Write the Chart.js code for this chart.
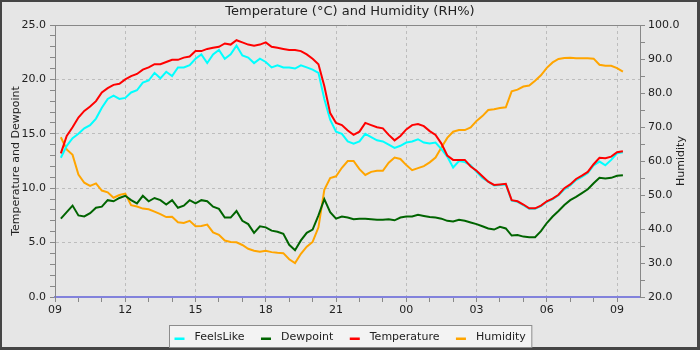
<!DOCTYPE html>
<html>
<head>
<meta charset="utf-8">
<script src="https://cdn.jsdelivr.net/npm/chart.js@4"></script>
<style>
  html, body { margin: 0; padding: 0; background: #e6e6e6; }
  canvas { display: block; }
</style>
</head>
<body>
<canvas id="chart" width="700" height="350"></canvas>
<script>
// 15 minute readings, first one at 09:15 (hours are counted from 09:00)
const firstSample = 0.25;
const sampleStep = 0.25;

const feelsLike = [
  12.8, 13.9, 14.6, 15.0, 15.5, 15.8, 16.4, 17.4, 18.2, 18.5,
  18.2, 18.3, 18.8, 19.0, 19.7, 19.9, 20.6, 20.1, 20.7, 20.3,
  21.1, 21.1, 21.3, 21.9, 22.3, 21.5, 22.3, 22.7, 21.9, 22.3,
  23.1, 22.2, 22.0, 21.5, 21.9, 21.6, 21.1, 21.3, 21.1, 21.1,
  21.0, 21.3, 21.1, 20.9, 20.6, 18.2, 16.3, 15.2, 15.0, 14.3,
  14.1, 14.3, 15.0, 14.7, 14.4, 14.3, 14.0, 13.7, 13.9, 14.2,
  14.3, 14.5, 14.2, 14.1, 14.2, 13.6, 12.9, 11.9, 12.5, 12.4,
  12.1, 11.5, 10.95, 10.6, 10.25, 10.3, 10.35, 8.85, 8.75, 8.45,
  8.1, 8.1, 8.35, 8.75, 9.0, 9.35, 9.9, 10.25, 10.75, 11.05,
  11.4, 12.1, 12.45, 12.1, 12.6, 13.2, 13.3
];

const dewpoint = [
  7.2, 7.8, 8.4, 7.5, 7.4, 7.7, 8.2, 8.3, 8.9, 8.8,
  9.1, 9.3, 8.9, 8.6, 9.3, 8.8, 9.1, 8.9, 8.5, 8.9,
  8.2, 8.4, 8.9, 8.6, 8.9, 8.8, 8.3, 8.1, 7.3, 7.3,
  7.9, 7.0, 6.7, 5.9, 6.5, 6.4, 6.1, 6.0, 5.8, 4.8,
  4.3, 5.2, 5.9, 6.2, 7.5, 9.0, 7.8, 7.2, 7.4, 7.3,
  7.15, 7.2, 7.2, 7.15, 7.1, 7.1, 7.15, 7.05, 7.3, 7.4,
  7.4, 7.55, 7.45, 7.35, 7.3, 7.2, 7.0, 6.95, 7.1, 7.0,
  6.85, 6.7, 6.5, 6.3, 6.2, 6.45, 6.3, 5.65, 5.7, 5.55,
  5.5, 5.5, 6.05, 6.8, 7.4, 7.9, 8.45, 8.9, 9.2, 9.55,
  9.9, 10.45, 10.95, 10.9, 10.95, 11.15, 11.2
];

const temperature = [
  13.2, 14.8, 15.6, 16.5, 17.1, 17.5, 18.0, 18.8, 19.2, 19.5,
  19.6, 20.0, 20.3, 20.5, 20.9, 21.1, 21.4, 21.4, 21.6, 21.8,
  21.8, 22.0, 22.1, 22.6, 22.6, 22.8, 22.9, 23.0, 23.3, 23.2,
  23.6, 23.4, 23.2, 23.1, 23.2, 23.4, 23.0, 22.9, 22.8, 22.7,
  22.7, 22.6, 22.3, 21.9, 21.4, 19.4, 16.9, 16.0, 15.8, 15.3,
  14.9, 15.2, 16.0, 15.8, 15.6, 15.5, 14.9, 14.4, 14.8, 15.4,
  15.8, 15.9, 15.7, 15.25, 14.9, 14.1, 13.0, 12.6, 12.6, 12.6,
  12.0, 11.6, 11.1, 10.6, 10.3, 10.35, 10.4, 8.9, 8.8, 8.5,
  8.15, 8.15, 8.4, 8.8, 9.05, 9.4, 10.0, 10.35, 10.85, 11.15,
  11.5, 12.2, 12.8, 12.75, 12.9, 13.3, 13.4
];

const humidity = [
  67.0, 63.4, 61.8, 56.0, 53.6, 52.7, 53.4, 51.3, 50.8, 49.2,
  50.0, 50.4, 47.0, 46.6, 46.0, 45.8, 45.1, 44.4, 43.5, 43.6,
  42.0, 41.8, 42.4, 40.8, 40.9, 41.3, 39.0, 38.3, 36.6, 36.2,
  36.1, 35.3, 34.2, 33.6, 33.3, 33.6, 33.2, 33.0, 32.9, 31.1,
  30.0, 32.7, 34.8, 36.2, 40.5, 51.5, 55.0, 55.5, 58.0, 60.0,
  60.0, 57.6, 55.9, 56.8, 57.1, 57.1, 59.5, 61.0, 60.6, 58.8,
  57.3, 57.9, 58.5, 59.6, 61.0, 64.0, 66.8, 68.6, 69.1, 69.1,
  69.9, 71.8, 73.2, 75.0, 75.2, 75.6, 75.8, 80.5, 81.0, 81.9,
  82.2, 83.6, 85.2, 87.4, 89.0, 90.0, 90.3, 90.4, 90.2, 90.2,
  90.2, 90.1, 88.3, 88.0, 88.0, 87.3, 86.3
];

const hourLabels = ["09", "12", "15", "18", "21", "00", "03", "06", "09"];

const series = [
  { label: "FeelsLike", values: feelsLike, color: "#00ffff", axis: "y", order: 2 },
  { label: "Dewpoint", values: dewpoint, color: "#006400", axis: "y", order: 3 },
  { label: "Temperature", values: temperature, color: "#ff0000", axis: "y", order: 1 },
  { label: "Humidity", values: humidity, color: "#ffa500", axis: "y1", order: 4 }
];

const toPoints = values => values.map((v, i) => ({ x: firstSample + i * sampleStep, y: v }));

const FONT = "DejaVu Sans";
const AXIS_GREY = "#888888";
const GRID_GREY = "#bdbdbd";
const TEXT = "#222222";

Chart.defaults.font.family = FONT;
Chart.defaults.font.size = 11;
Chart.defaults.color = TEXT;

// frame, title, axis titles, boxed legend and the top edge of the plot
const decorations = {
  id: "decorations",
  beforeDraw(chart) {
    const ctx = chart.ctx;
    ctx.save();
    ctx.fillStyle = "#454545";
    ctx.fillRect(0, 0, chart.width, chart.height);
    ctx.fillStyle = "#e6e6e6";
    ctx.fillRect(2, 2, chart.width - 5, chart.height - 5);
    ctx.restore();
  },
  beforeDatasetsDraw(chart) {
    const { ctx, chartArea } = chart;
    ctx.save();
    ctx.strokeStyle = AXIS_GREY;
    ctx.lineWidth = 1;
    ctx.beginPath();
    ctx.moveTo(chartArea.left, chartArea.top + 0.5);
    ctx.lineTo(chartArea.right, chartArea.top + 0.5);
    ctx.stroke();
    ctx.restore();
  },
  afterDraw(chart) {
    const { ctx, chartArea } = chart;
    const midY = (chartArea.top + chartArea.bottom) / 2;
    ctx.save();
    ctx.fillStyle = TEXT;
    ctx.textAlign = "center";
    ctx.textBaseline = "middle";

    ctx.font = "13px " + FONT;
    ctx.fillText("Temperature (\u00B0C) and Humidity (RH%)", chart.width / 2, 12);

    ctx.font = "11px " + FONT;
    ctx.save();
    ctx.translate(16.5, midY);
    ctx.rotate(-Math.PI / 2);
    ctx.fillText("Temperature and Dewpoint", 0, 0);
    ctx.restore();
    ctx.save();
    ctx.translate(681, midY);
    ctx.rotate(-Math.PI / 2);
    ctx.fillText("Humidity", 0, 0);
    ctx.restore();

    // legend box along the bottom
    const swatch = 10, gapIn = 10, gapOut = 16.5, padL = 5, padR = 6;
    const widths = series.map(s => ctx.measureText(s.label).width);
    let boxW = padL + padR + gapOut * (series.length - 1);
    widths.forEach(w => { boxW += swatch + gapIn + w; });
    const boxX = Math.round(chart.width / 2 - boxW / 2) + 0.5;
    const boxY = 325.5, boxH = 22;
    ctx.fillStyle = "#f3f3f3";
    ctx.fillRect(boxX, boxY, boxW, boxH);
    ctx.strokeStyle = "#8c8c8c";
    ctx.lineWidth = 1;
    ctx.strokeRect(boxX, boxY, boxW, boxH);

    let x = boxX + padL;
    ctx.textAlign = "left";
    series.forEach((s, i) => {
      ctx.fillStyle = s.color;
      ctx.fillRect(x, 337.5, swatch, 2.5);
      x += swatch + gapIn;
      ctx.fillStyle = TEXT;
      ctx.fillText(s.label, x, 337);
      x += widths[i] + gapOut;
    });
    ctx.restore();
  }
};

new Chart(document.getElementById("chart"), {
  type: "line",
  data: {
    datasets: series.map(s => ({
      label: s.label,
      data: toPoints(s.values),
      borderColor: s.color,
      backgroundColor: s.color,
      borderWidth: 2,
      pointRadius: 0,
      tension: 0,
      fill: false,
      yAxisID: s.axis,
      order: s.order
    }))
  },
  options: {
    responsive: false,
    animation: false,
    devicePixelRatio: 1,
    layout: { padding: { top: 25, left: 0, right: 0, bottom: 0 } },
    plugins: {
      legend: { display: false },
      title: { display: false },
      tooltip: { enabled: false }
    },
    scales: {
      x: {
        type: "linear",
        min: 0,
        max: 24.98,
        afterFit: scale => { scale.height = 53; },
        ticks: {
          stepSize: 1,
          includeBounds: false,
          autoSkip: false,
          maxRotation: 0,
          padding: 2,
          font: { size: 11 },
          callback: v => (v % 3 === 0 ? hourLabels[v / 3] : "")
        },
        grid: {
          color: c => (c.tick && c.tick.value % 3 === 0 && c.tick.value > 0 ? GRID_GREY : "transparent"),
          tickColor: AXIS_GREY,
          tickLength: 5,
          lineWidth: 1
        },
        border: { color: "#8282dc", width: 2, dash: [3, 3] }
      },
      y: {
        position: "left",
        min: 0,
        max: 25,
        afterFit: scale => { scale.width = 55; },
        ticks: {
          stepSize: 1,
          autoSkip: false,
          padding: 4,
          callback: v => (v % 5 === 0 ? v.toFixed(1) : "")
        },
        grid: {
          color: c => (c.tick && c.tick.value % 5 === 0 && c.tick.value > 0 && c.tick.value < 25 ? GRID_GREY : "transparent"),
          tickColor: AXIS_GREY,
          tickLength: 5
        },
        border: { color: AXIS_GREY, width: 1, dash: [3, 3] }
      },
      y1: {
        position: "right",
        min: 20,
        max: 100,
        afterFit: scale => { scale.width = 60; },
        ticks: {
          stepSize: 5,
          autoSkip: false,
          padding: 3,
          callback: v => (v % 10 === 0 ? v.toFixed(1) : "")
        },
        grid: {
          drawOnChartArea: false,
          tickColor: AXIS_GREY,
          tickLength: 5
        },
        border: { color: AXIS_GREY, width: 1 }
      }
    }
  },
  plugins: [decorations]
});
</script>
</body>
</html>
